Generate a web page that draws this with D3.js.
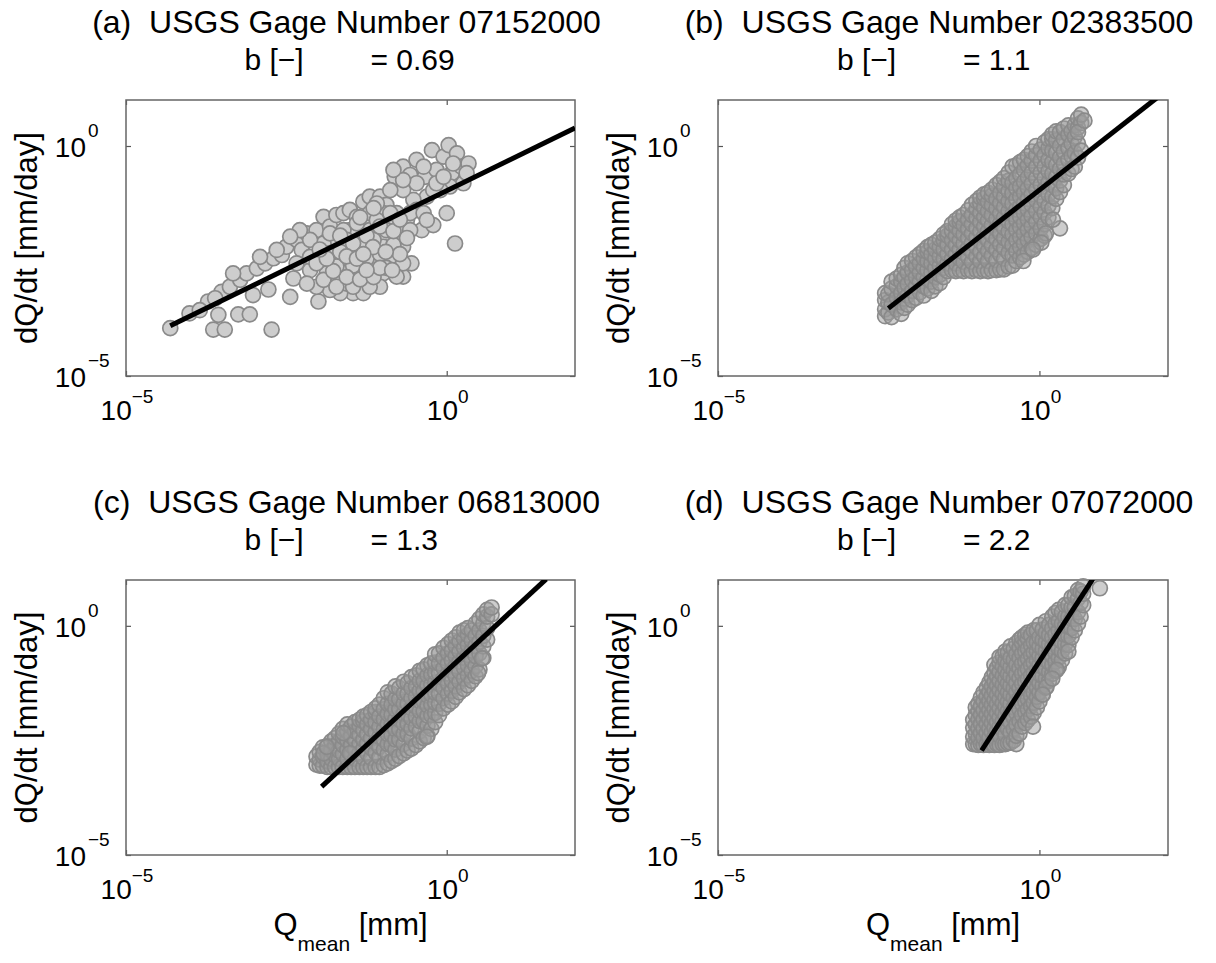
<!DOCTYPE html>
<meta charset="utf-8">
<script src="https://d3js.org/d3.v7.min.js"></script>
<style>
  body { margin: 0; background: #fff; }
  text { font-family: "Liberation Sans", Arial, sans-serif; fill: #000; white-space: pre; }
</style>
<div id="my_dataviz"></div>
<script>

// panel labels
var letters = ["a", "b", "c", "d"];
var gages = ["07152000", "02383500", "06813000", "07072000"];
var bValues = ["0.69", "1.1", "1.3", "2.2"];

// axis limits (log10) and the tick exponents shown
var xLimits = [-5, 2];
var yLimits = [-5, 1];
var tickExps = [-5, 0];

// fitted power law, end points as [log10 Qmean, log10 dQ/dt]
var fitA = [[-4.31, -3.91], [2.0, 0.39]];
var fitB = [[-2.35, -3.53], [1.83, 1.05]];
var fitC = [[-1.95, -3.51], [1.55, 1.02]];
var fitD = [[-0.90, -2.72], [0.83, 1.02]];

// (a) points [log10 Qmean, log10 dQ/dt]
var pointsA = [
  [-4.31,-3.96],[-4.01,-3.64],[-3.72,-3.38],[-3.64,-3.99],[-3.46,-3.99],[-3.56,-3.67],[-3.25,-3.66],[-3.07,-3.66],
  [-2.73,-3.99],[-3.51,-3.17],[-3.38,-3.06],[-3.22,-2.91],[-3.12,-2.77],[-3.02,-3.24],[-2.96,-2.66],[-2.83,-2.55],
  [-2.78,-3.12],[-2.70,-2.44],[-2.57,-2.37],[-2.44,-3.28],[-2.50,-2.19],[-2.34,-2.04],[-2.26,-2.26],[-2.18,-1.90],
  [-2.39,-2.88],[-2.13,-2.70],[-2.00,-3.38],[-2.03,-1.83],[-1.92,-1.54],[-1.82,-1.75],[-1.72,-1.50],[-1.61,-1.46],
  [-1.51,-1.39],[-1.40,-1.54],[-1.30,-1.21],[-1.20,-1.10],[-1.04,-1.10],[-0.94,-1.28],[-0.81,-0.67],[-0.68,-0.45],
  [-0.57,-0.63],[-0.47,-0.30],[-0.34,-0.67],[-0.23,-0.09],[-0.16,-0.52],[-0.05,-0.23],[0.03,0.02],[0.08,-0.59],
  [0.16,-0.16],[0.23,-0.45],[0.34,-0.38],[0.26,-0.81],[0.05,-0.88],[-0.10,-0.96],[-0.31,-1.10],[-0.52,-1.17],
  [-0.68,-0.96],[-0.78,-1.46],[-0.62,-1.61],[-0.47,-1.39],[-0.39,-1.83],[-0.21,-1.72],[0.00,-1.46],[0.13,-2.12],
  [-0.55,-2.55],[-0.75,-2.62],[-0.88,-2.04],[-0.99,-2.41],[-1.09,-2.77],[-1.25,-2.99],[-1.46,-3.20],[-1.66,-3.20],
  [-1.82,-3.13],[-2.03,-3.06],[-2.18,-2.99],[-1.92,-2.55],[-1.72,-2.41],[-1.51,-2.19],[-1.30,-2.04],[-1.09,-1.83],
  [-0.88,-1.68],[-1.72,-2.04],[-1.51,-1.83],[-1.30,-1.68],[-1.92,-2.12],[-2.13,-2.41],[-1.51,-2.70],[-1.30,-2.55],
  [-1.09,-2.26],[-1.72,-2.84],[-1.40,-2.91],[-0.99,-2.77],[-0.78,-2.26],[-1.20,-1.46],[-0.99,-1.46],[-1.61,-2.55],
  [-1.87,-2.77],[-2.13,-2.04],[-2.34,-2.55],[-1.20,-2.62],[-1.40,-2.33],[-1.56,-2.99],[-0.73,-1.83],[-0.68,-2.84],
  [-1.04,-3.06],[-1.30,-3.20],[-0.88,-2.55],[-1.20,-1.83],[-1.82,-1.90],[-0.21,-0.96],[-0.47,-0.81],[-0.68,-0.74],
  [-0.36,-0.45],[-0.16,-0.81],[0.10,-0.38],[0.31,-0.59],[-0.05,-0.67],[-0.88,-0.96],[-0.83,-0.52],[-1.09,-1.25],
  [-1.82,-2.33],[-1.61,-2.19],[-1.40,-1.90],[-1.20,-2.12],[-0.99,-1.97],[-0.78,-2.04],[-1.51,-2.48],[-1.30,-2.77],
  [-1.09,-2.55],[-1.72,-2.62],[-1.46,-3.06],[-1.20,-3.06],[-0.99,-2.19],[-0.88,-2.41],[-0.68,-2.19],[-0.68,-2.55],
  [-0.78,-2.84],[-1.61,-1.83],[-1.40,-1.68],[-1.09,-1.61],[-0.88,-1.46],[-2.03,-2.55],[-1.92,-2.91],[-1.72,-3.06],
  [-1.25,-2.33],[-1.56,-2.04],[-1.35,-2.19],[-1.14,-2.04],[-0.94,-1.83],[-0.57,-1.83],[-0.57,-1.46],[-0.36,-1.46],
  [-0.31,-1.61],[-2.29,-1.83],[-2.44,-1.97],[-2.65,-2.26],[-2.91,-2.41],[-3.33,-2.77],[-3.61,-3.31],[-3.85,-3.57],
  [-1.66,-2.30],[-1.46,-2.60],[-1.25,-2.45],[-1.04,-2.35],[-0.83,-2.15],[-1.56,-2.85],[-1.35,-2.90],[-1.14,-2.85],
  [-0.94,-2.65],[-1.77,-2.72],[-1.46,-2.12],[-1.25,-1.95],[-1.04,-1.75],[-0.83,-1.85],[-1.66,-1.95],[-1.87,-2.45],
  [-1.98,-2.25],[-1.35,-1.55],[-1.14,-1.35],[-0.73,-1.60],[-0.62,-2.00],[-0.73,-2.35],[-1.04,-2.65],[-1.25,-2.70],
  [-1.56,-2.40],[-1.40,-2.45],[-1.15,-2.20],[-0.95,-2.30],[-0.85,-2.70],[-1.30,-2.35]
];

// (b)-(d) dense clouds, one row per Qmean: [log10 Qmean, log10 dQ/dt ...]
var columnsB = [
  [-2.40,-3.70,-3.55,-3.35,-3.20],
  [-2.35,-3.62,-3.40,-3.22],
  [-2.30,-3.72,-3.45,-3.10,-2.95],
  [-2.22,-3.55,-3.30,-3.05,-2.88],
  [-2.15,-3.65,-3.40,-3.20,-2.95,-2.80],
  [-2.10,-3.52,-3.32,-3.08,-2.85,-2.65],
  [-2.05,-3.45,-3.25,-3.00,-2.75,-2.55],
  [-1.98,-3.35,-3.15,-2.92,-2.70,-2.50],
  [-1.92,-3.30,-3.05,-2.85,-2.62,-2.42],
  [-1.86,-3.18,-2.95,-2.75,-2.55,-2.35],
  [-1.80,-3.25,-3.05,-2.85,-2.65,-2.45,-2.28],
  [-1.74,-3.10,-2.90,-2.70,-2.50,-2.30,-2.20],
  [-1.68,-3.15,-2.95,-2.75,-2.55,-2.35,-2.15],
  [-1.62,-3.05,-2.85,-2.65,-2.45,-2.25,-2.10],
  [-1.55,-2.98,-2.80,-2.60,-2.40,-2.20,-2.02],
  [-1.49,-2.85,-2.65,-2.45,-2.25,-2.05,-1.92],
  [-1.43,-2.72,-2.55,-2.35,-2.15,-1.95,-1.85],
  [-1.36,-2.70,-2.45,-2.25,-2.05,-1.85,-1.70],
  [-1.30,-2.72,-2.55,-2.35,-2.15,-1.95,-1.75,-1.62],
  [-1.24,-2.70,-2.45,-2.25,-2.05,-1.85,-1.65,-1.55],
  [-1.18,-2.72,-2.52,-2.32,-2.12,-1.92,-1.72,-1.50],
  [-1.11,-2.70,-2.42,-2.22,-2.00,-1.80,-1.60,-1.40],
  [-1.05,-2.72,-2.52,-2.30,-2.10,-1.90,-1.70,-1.50,-1.28],
  [-0.98,-2.70,-2.40,-2.20,-1.98,-1.78,-1.56,-1.36,-1.20],
  [-0.92,-2.72,-2.50,-2.30,-2.08,-1.86,-1.65,-1.45,-1.25,-1.12],
  [-0.86,-2.70,-2.40,-2.18,-1.96,-1.75,-1.54,-1.34,-1.14,-1.05],
  [-0.80,-2.72,-2.50,-2.28,-2.05,-1.85,-1.62,-1.42,-1.22,-1.02],
  [-0.74,-2.70,-2.38,-2.16,-1.94,-1.72,-1.50,-1.28,-1.08,-0.95],
  [-0.67,-2.70,-2.48,-2.25,-2.02,-1.80,-1.58,-1.36,-1.15,-0.85],
  [-0.61,-2.68,-2.36,-2.14,-1.90,-1.68,-1.46,-1.24,-1.02,-0.78],
  [-0.55,-2.68,-2.45,-2.22,-2.00,-1.78,-1.55,-1.32,-1.10,-0.88,-0.70],
  [-0.48,-2.62,-2.32,-2.08,-1.86,-1.64,-1.42,-1.20,-0.98,-0.76,-0.58],
  [-0.42,-2.60,-2.38,-2.15,-1.92,-1.70,-1.48,-1.25,-1.02,-0.80,-0.45],
  [-0.36,-2.50,-2.28,-2.04,-1.82,-1.60,-1.38,-1.15,-0.92,-0.70,-0.42],
  [-0.30,-2.42,-2.20,-1.98,-1.76,-1.54,-1.32,-1.10,-0.88,-0.62,-0.35],
  [-0.24,-2.36,-2.12,-1.90,-1.68,-1.46,-1.24,-1.02,-0.78,-0.52,-0.30],
  [-0.18,-2.30,-2.05,-1.82,-1.60,-1.38,-1.15,-0.92,-0.68,-0.42,-0.22],
  [-0.12,-2.22,-1.98,-1.74,-1.52,-1.28,-1.05,-0.82,-0.58,-0.32,-0.12],
  [-0.05,-2.15,-1.90,-1.65,-1.42,-1.18,-0.95,-0.70,-0.45,-0.20,0.00],
  [0.02,-2.02,-1.80,-1.55,-1.32,-1.08,-0.84,-0.58,-0.32,-0.08],
  [0.08,-1.95,-1.70,-1.45,-1.20,-0.95,-0.70,-0.45,-0.20,0.08],
  [0.14,-1.55,-1.30,-1.05,-0.80,-0.55,-0.30,-0.05,0.15],
  [0.20,-1.35,-1.10,-0.85,-0.60,-0.35,-0.10,0.15,0.25],
  [0.26,-1.15,-0.92,-0.68,-0.42,-0.15,0.12,0.32],
  [0.32,-1.00,-0.75,-0.50,-0.25,0.00,0.30],
  [0.38,-0.85,-0.62,-0.38,-0.12,0.15,0.38],
  [0.45,-0.60,-0.30,-0.05,0.25,0.45],
  [0.50,-0.50,-0.22,0.05,0.32],
  [0.55,-0.45,-0.15,0.20,0.45],
  [0.60,-0.25,0.05,0.40,0.60],
  [0.65,-0.10,0.50,0.68]
];
var outliersB = [[0.32,-1.79],[0.10,-1.90],[0.03,-2.10],[-0.10,-2.25],[0.21,-1.60],[-0.25,-2.50],[0.60,0.30],[0.70,0.55]];

var columnsC = [
  [-2.03,-3.03,-2.85],
  [-1.98,-3.05,-2.92,-2.75],
  [-1.93,-3.05,-2.85,-2.65],
  [-1.86,-3.08,-2.95,-2.80,-2.62],
  [-1.80,-3.08,-2.90,-2.72,-2.52],
  [-1.74,-3.08,-2.82,-2.62,-2.45],
  [-1.68,-3.08,-2.90,-2.72,-2.52,-2.35],
  [-1.62,-3.08,-2.80,-2.60,-2.42,-2.25],
  [-1.55,-3.08,-2.90,-2.70,-2.50,-2.30,-2.15],
  [-1.49,-3.08,-2.80,-2.60,-2.40,-2.20],
  [-1.43,-3.08,-2.90,-2.70,-2.50,-2.30,-2.10],
  [-1.36,-3.08,-2.78,-2.58,-2.38,-2.18,-2.05],
  [-1.30,-3.08,-2.88,-2.68,-2.48,-2.28,-2.08,-1.98],
  [-1.24,-3.08,-2.78,-2.56,-2.36,-2.15,-1.95],
  [-1.18,-3.08,-2.88,-2.66,-2.45,-2.25,-2.05,-1.88],
  [-1.11,-3.08,-2.76,-2.54,-2.32,-2.10,-1.88,-1.80],
  [-1.05,-3.08,-2.86,-2.64,-2.42,-2.20,-1.98,-1.72],
  [-0.98,-3.04,-2.70,-2.48,-2.26,-2.04,-1.82,-1.58],
  [-0.92,-3.00,-2.80,-2.58,-2.36,-2.14,-1.92,-1.70,-1.45],
  [-0.86,-2.95,-2.60,-2.38,-2.16,-1.94,-1.72,-1.48],
  [-0.80,-2.90,-2.70,-2.48,-2.26,-2.04,-1.82,-1.60,-1.32],
  [-0.74,-2.84,-2.48,-2.26,-2.04,-1.82,-1.60,-1.36],
  [-0.67,-2.78,-2.58,-2.36,-2.14,-1.92,-1.70,-1.48,-1.22],
  [-0.61,-2.72,-2.36,-2.14,-1.92,-1.70,-1.48,-1.25],
  [-0.55,-2.68,-2.46,-2.24,-2.02,-1.80,-1.58,-1.36,-1.12],
  [-0.48,-2.60,-2.20,-1.98,-1.76,-1.54,-1.32,-1.08],
  [-0.42,-2.52,-2.30,-2.08,-1.86,-1.64,-1.42,-1.20,-0.98],
  [-0.36,-2.45,-2.08,-1.86,-1.64,-1.42,-1.20,-0.95],
  [-0.30,-2.40,-2.18,-1.96,-1.74,-1.52,-1.30,-1.08,-0.86],
  [-0.24,-2.25,-1.95,-1.72,-1.50,-1.28,-1.06,-0.82],
  [-0.18,-2.10,-1.90,-1.68,-1.46,-1.24,-1.02,-0.80,-0.62],
  [-0.12,-1.95,-1.70,-1.48,-1.26,-1.04,-0.82,-0.60],
  [-0.05,-1.80,-1.58,-1.36,-1.14,-0.92,-0.70,-0.48],
  [0.02,-1.72,-1.48,-1.26,-1.04,-0.82,-0.60,-0.40],
  [0.08,-1.65,-1.42,-1.20,-0.98,-0.76,-0.54,-0.32],
  [0.14,-1.55,-1.32,-1.10,-0.88,-0.66,-0.44,-0.25],
  [0.20,-1.45,-1.22,-1.00,-0.78,-0.56,-0.34,-0.15],
  [0.27,-1.38,-1.15,-0.92,-0.70,-0.48,-0.28,-0.10],
  [0.33,-1.30,-1.08,-0.86,-0.64,-0.42,-0.20,-0.05],
  [0.39,-1.20,-0.98,-0.76,-0.54,-0.32,-0.10],
  [0.45,-1.10,-0.88,-0.66,-0.44,-0.22,0.05],
  [0.51,-0.95,-0.60,-0.35,-0.10,0.15],
  [0.57,-0.70,-0.45,-0.22,0.05,0.25],
  [0.63,-0.30,-0.05,0.20,0.35],
  [0.70,0.25,0.40]
];
var outliersC = [[0.49,-1.03],[0.55,-0.71],[-0.31,-2.42],[-1.92,-2.78],[-1.87,-2.64],[-1.61,-2.34],[-1.51,-2.78]];

var columnsD = [
  [-1.03,-2.58,-2.42,-2.22,-2.05],
  [-0.99,-2.58,-2.35,-2.15,-1.95,-1.78],
  [-0.95,-2.60,-2.44,-2.24,-2.04,-1.85,-1.70],
  [-0.91,-2.58,-2.34,-2.14,-1.94,-1.74,-1.56],
  [-0.87,-2.60,-2.44,-2.24,-2.04,-1.84,-1.64,-1.45],
  [-0.82,-2.58,-2.34,-2.14,-1.94,-1.74,-1.54,-1.35],
  [-0.78,-2.60,-2.44,-2.24,-2.04,-1.84,-1.64,-1.44,-1.24],
  [-0.74,-2.58,-2.32,-2.12,-1.92,-1.72,-1.52,-1.32,-1.12],
  [-0.70,-2.60,-2.42,-2.22,-2.02,-1.82,-1.62,-1.42,-1.22,-1.02,-0.85],
  [-0.66,-2.58,-2.30,-2.10,-1.90,-1.70,-1.50,-1.30,-1.10,-0.92],
  [-0.62,-2.60,-2.40,-2.20,-2.00,-1.80,-1.60,-1.40,-1.20,-1.00,-0.80,-0.68],
  [-0.57,-2.58,-2.28,-2.08,-1.88,-1.68,-1.48,-1.28,-1.08,-0.88,-0.66],
  [-0.53,-2.58,-2.38,-2.16,-1.96,-1.76,-1.56,-1.36,-1.16,-0.96,-0.76,-0.56],
  [-0.49,-2.56,-2.25,-2.05,-1.85,-1.65,-1.45,-1.25,-1.05,-0.82,-0.58],
  [-0.45,-2.55,-2.32,-2.10,-1.90,-1.70,-1.50,-1.30,-1.10,-0.90,-0.70,-0.45],
  [-0.40,-2.50,-2.25,-2.00,-1.78,-1.56,-1.36,-1.16,-0.96,-0.74,-0.50],
  [-0.36,-2.58,-2.40,-2.15,-1.90,-1.65,-1.45,-1.25,-1.05,-0.85,-0.62,-0.38],
  [-0.31,-2.35,-2.08,-1.82,-1.58,-1.36,-1.14,-0.92,-0.70,-0.48,-0.30],
  [-0.27,-2.20,-1.95,-1.70,-1.48,-1.26,-1.04,-0.82,-0.60,-0.38,-0.25],
  [-0.22,-2.12,-1.88,-1.65,-1.44,-1.22,-1.00,-0.78,-0.55,-0.34,-0.20],
  [-0.18,-2.05,-1.82,-1.60,-1.38,-1.16,-0.94,-0.72,-0.50,-0.28,-0.15],
  [-0.13,-1.98,-1.75,-1.52,-1.30,-1.08,-0.86,-0.64,-0.42,-0.20],
  [-0.09,-1.90,-1.68,-1.46,-1.24,-1.02,-0.80,-0.58,-0.36,-0.10],
  [-0.04,-1.78,-1.55,-1.35,-1.15,-0.95,-0.75,-0.55,-0.35,-0.10],
  [0.00,-1.65,-1.45,-1.25,-1.05,-0.85,-0.65,-0.45,-0.25,0.02],
  [0.05,-1.50,-1.30,-1.10,-0.90,-0.70,-0.50,-0.30,-0.08],
  [0.10,-1.35,-1.15,-0.95,-0.75,-0.55,-0.35,-0.15,0.10],
  [0.15,-1.20,-1.00,-0.80,-0.60,-0.40,-0.20,0.02],
  [0.20,-1.05,-0.85,-0.65,-0.45,-0.25,-0.05,0.20],
  [0.25,-0.98,-0.78,-0.58,-0.38,-0.18,0.05,0.28],
  [0.30,-0.90,-0.70,-0.50,-0.30,-0.10,0.10,0.35],
  [0.35,-0.75,-0.55,-0.35,-0.15,0.05,0.30],
  [0.40,-0.60,-0.40,-0.20,0.00,0.20,0.45],
  [0.45,-0.42,-0.22,-0.02,0.20,0.45],
  [0.50,-0.25,-0.05,0.15,0.40,0.62],
  [0.55,-0.10,0.15,0.40,0.65],
  [0.60,0.05,0.30,0.60,0.78],
  [0.64,0.20,0.50,0.75],
  [0.68,0.45,0.70,0.86]
];
var outliersD = [[-0.10,-2.20],[0.45,-0.56],[0.94,0.82],[0.27,-0.96],[0.11,-1.33],[0.05,-1.50],[0.20,-1.15]];

function unpack(columns, extra) {
  var pts = [];
  columns.forEach(function(c) {
    c.slice(1).forEach(function(v) { pts.push([c[0], v]); });
  });
  return pts.concat(extra);
}

var pointSets = [pointsA, unpack(columnsB, outliersB), unpack(columnsC, outliersC), unpack(columnsD, outliersD)];
var fits = [fitA, fitB, fitC, fitD];

// panel placement; dense panels get a see-through fill so stacked markers darken
var panels = [
  {left: 126, top: 100, width: 449, height: 276, dense: false},
  {left: 718, top: 100, width: 450, height: 276, dense: true},
  {left: 126, top: 580, width: 449, height: 275, dense: true},
  {left: 718, top: 580, width: 450, height: 275, dense: true}
];

var svg = d3.select("#my_dataviz")
  .append("svg")
    .attr("width", 1216)
    .attr("height", 963);

// slight softening, like the scanned original
svg.append("defs").append("filter")
    .attr("id", "soft")
  .append("feGaussianBlur")
    .attr("stdDeviation", 0.5);

var p10 = function(e) { return Math.pow(10, e); };

panels.forEach(function(p, i) {
  var x = d3.scaleLog()
      .domain(xLimits.map(p10))
      .range([p.left, p.left + p.width]);
  var y = d3.scaleLog()
      .domain(yLimits.map(p10))
      .range([p.top + p.height, p.top]);
  var cx = p.left + p.width / 2;

  var g = svg.append("g");

  // titles
  g.append("text")
      .attr("x", cx - 4)
      .attr("y", p.top - 67)
      .attr("text-anchor", "middle")
      .style("font-size", "32px")
      .text("(" + letters[i] + ")  USGS Gage Number " + gages[i]);
  g.append("text")
      .attr("x", cx - 106)
      .attr("y", p.top - 30)
      .style("font-size", "30px")
      .text("b [\u2212]        = " + bValues[i]);

  // frame and inward ticks
  var tickVals = tickExps.map(p10);
  var axes = [
    {ax: d3.axisBottom(x), t: "translate(0," + (p.top + p.height) + ")"},
    {ax: d3.axisTop(x), t: "translate(0," + p.top + ")"},
    {ax: d3.axisLeft(y), t: "translate(" + p.left + ",0)"},
    {ax: d3.axisRight(y), t: "translate(" + (p.left + p.width) + ",0)"}
  ];
  axes.forEach(function(a) {
    var ag = g.append("g")
        .attr("transform", a.t)
        .call(a.ax.tickValues(tickVals).tickSize(-5).tickFormat(""));
    ag.select(".domain").remove();
    ag.selectAll("line").attr("stroke", "#555").attr("stroke-width", 1.2);
  });
  g.append("rect")
      .attr("x", p.left)
      .attr("y", p.top)
      .attr("width", p.width)
      .attr("height", p.height)
      .attr("fill", "none")
      .attr("stroke", "#666")
      .attr("stroke-width", 1.5);

  // tick labels
  tickExps.forEach(function(e) {
    var lx = g.append("text")
        .attr("x", x(p10(e)) + 1)
        .attr("y", p.top + p.height + 44)
        .attr("text-anchor", "middle")
        .style("font-size", "28px");
    lx.append("tspan").text("10");
    lx.append("tspan").attr("dy", -17).style("font-size", "19px").text(e < 0 ? "\u2212" + (-e) : String(e));

    g.append("text")
        .attr("x", p.left - 40)
        .attr("y", y(p10(e)) + 11)
        .attr("text-anchor", "end")
        .style("font-size", "28px")
        .text("10");
    g.append("text")
        .attr("x", p.left - 38)
        .attr("y", y(p10(e)) - 9)
        .style("font-size", "19px")
        .text(e < 0 ? "\u2212" + (-e) : String(e));
  });

  // axis labels
  g.append("text")
      .attr("transform", "translate(" + (p.left - 89) + "," + (p.top + p.height / 2) + ") rotate(-90)")
      .attr("text-anchor", "middle")
      .style("font-size", "31px")
      .text("dQ/dt [mm/day]");
  if (i >= 2) {
    var xl = g.append("text")
        .attr("x", cx)
        .attr("y", p.top + p.height + 80)
        .attr("text-anchor", "middle")
        .style("font-size", "31px");
    xl.append("tspan").text("Q");
    xl.append("tspan").attr("dy", 16).style("font-size", "21px").text("mean");
    xl.append("tspan").attr("dy", -16).text(" [mm]");
  }

  // scatter
  g.append("g")
      .attr("filter", "url(#soft)")
    .selectAll("circle")
    .data(pointSets[i])
    .enter()
    .append("circle")
      .attr("cx", function(d) { return x(p10(d[0])); })
      .attr("cy", function(d) { return y(p10(d[1])); })
      .attr("r", 7.5)
      .attr("fill", p.dense ? "#9c9c9c" : "#cdcdcd")
      .attr("fill-opacity", p.dense ? 0.5 : 1)
      .attr("stroke", "#8a8a8a")
      .attr("stroke-width", 1.7);

  // fitted line, clipped to the axes
  g.append("clipPath")
      .attr("id", "clip" + i)
    .append("rect")
      .attr("x", p.left)
      .attr("y", p.top)
      .attr("width", p.width)
      .attr("height", p.height);
  g.append("path")
      .datum(fits[i])
      .attr("clip-path", "url(#clip" + i + ")")
      .attr("fill", "none")
      .attr("stroke", "#000")
      .attr("stroke-width", 5)
      .attr("d", d3.line()
        .x(function(d) { return x(p10(d[0])); })
        .y(function(d) { return y(p10(d[1])); }));
});

</script>
